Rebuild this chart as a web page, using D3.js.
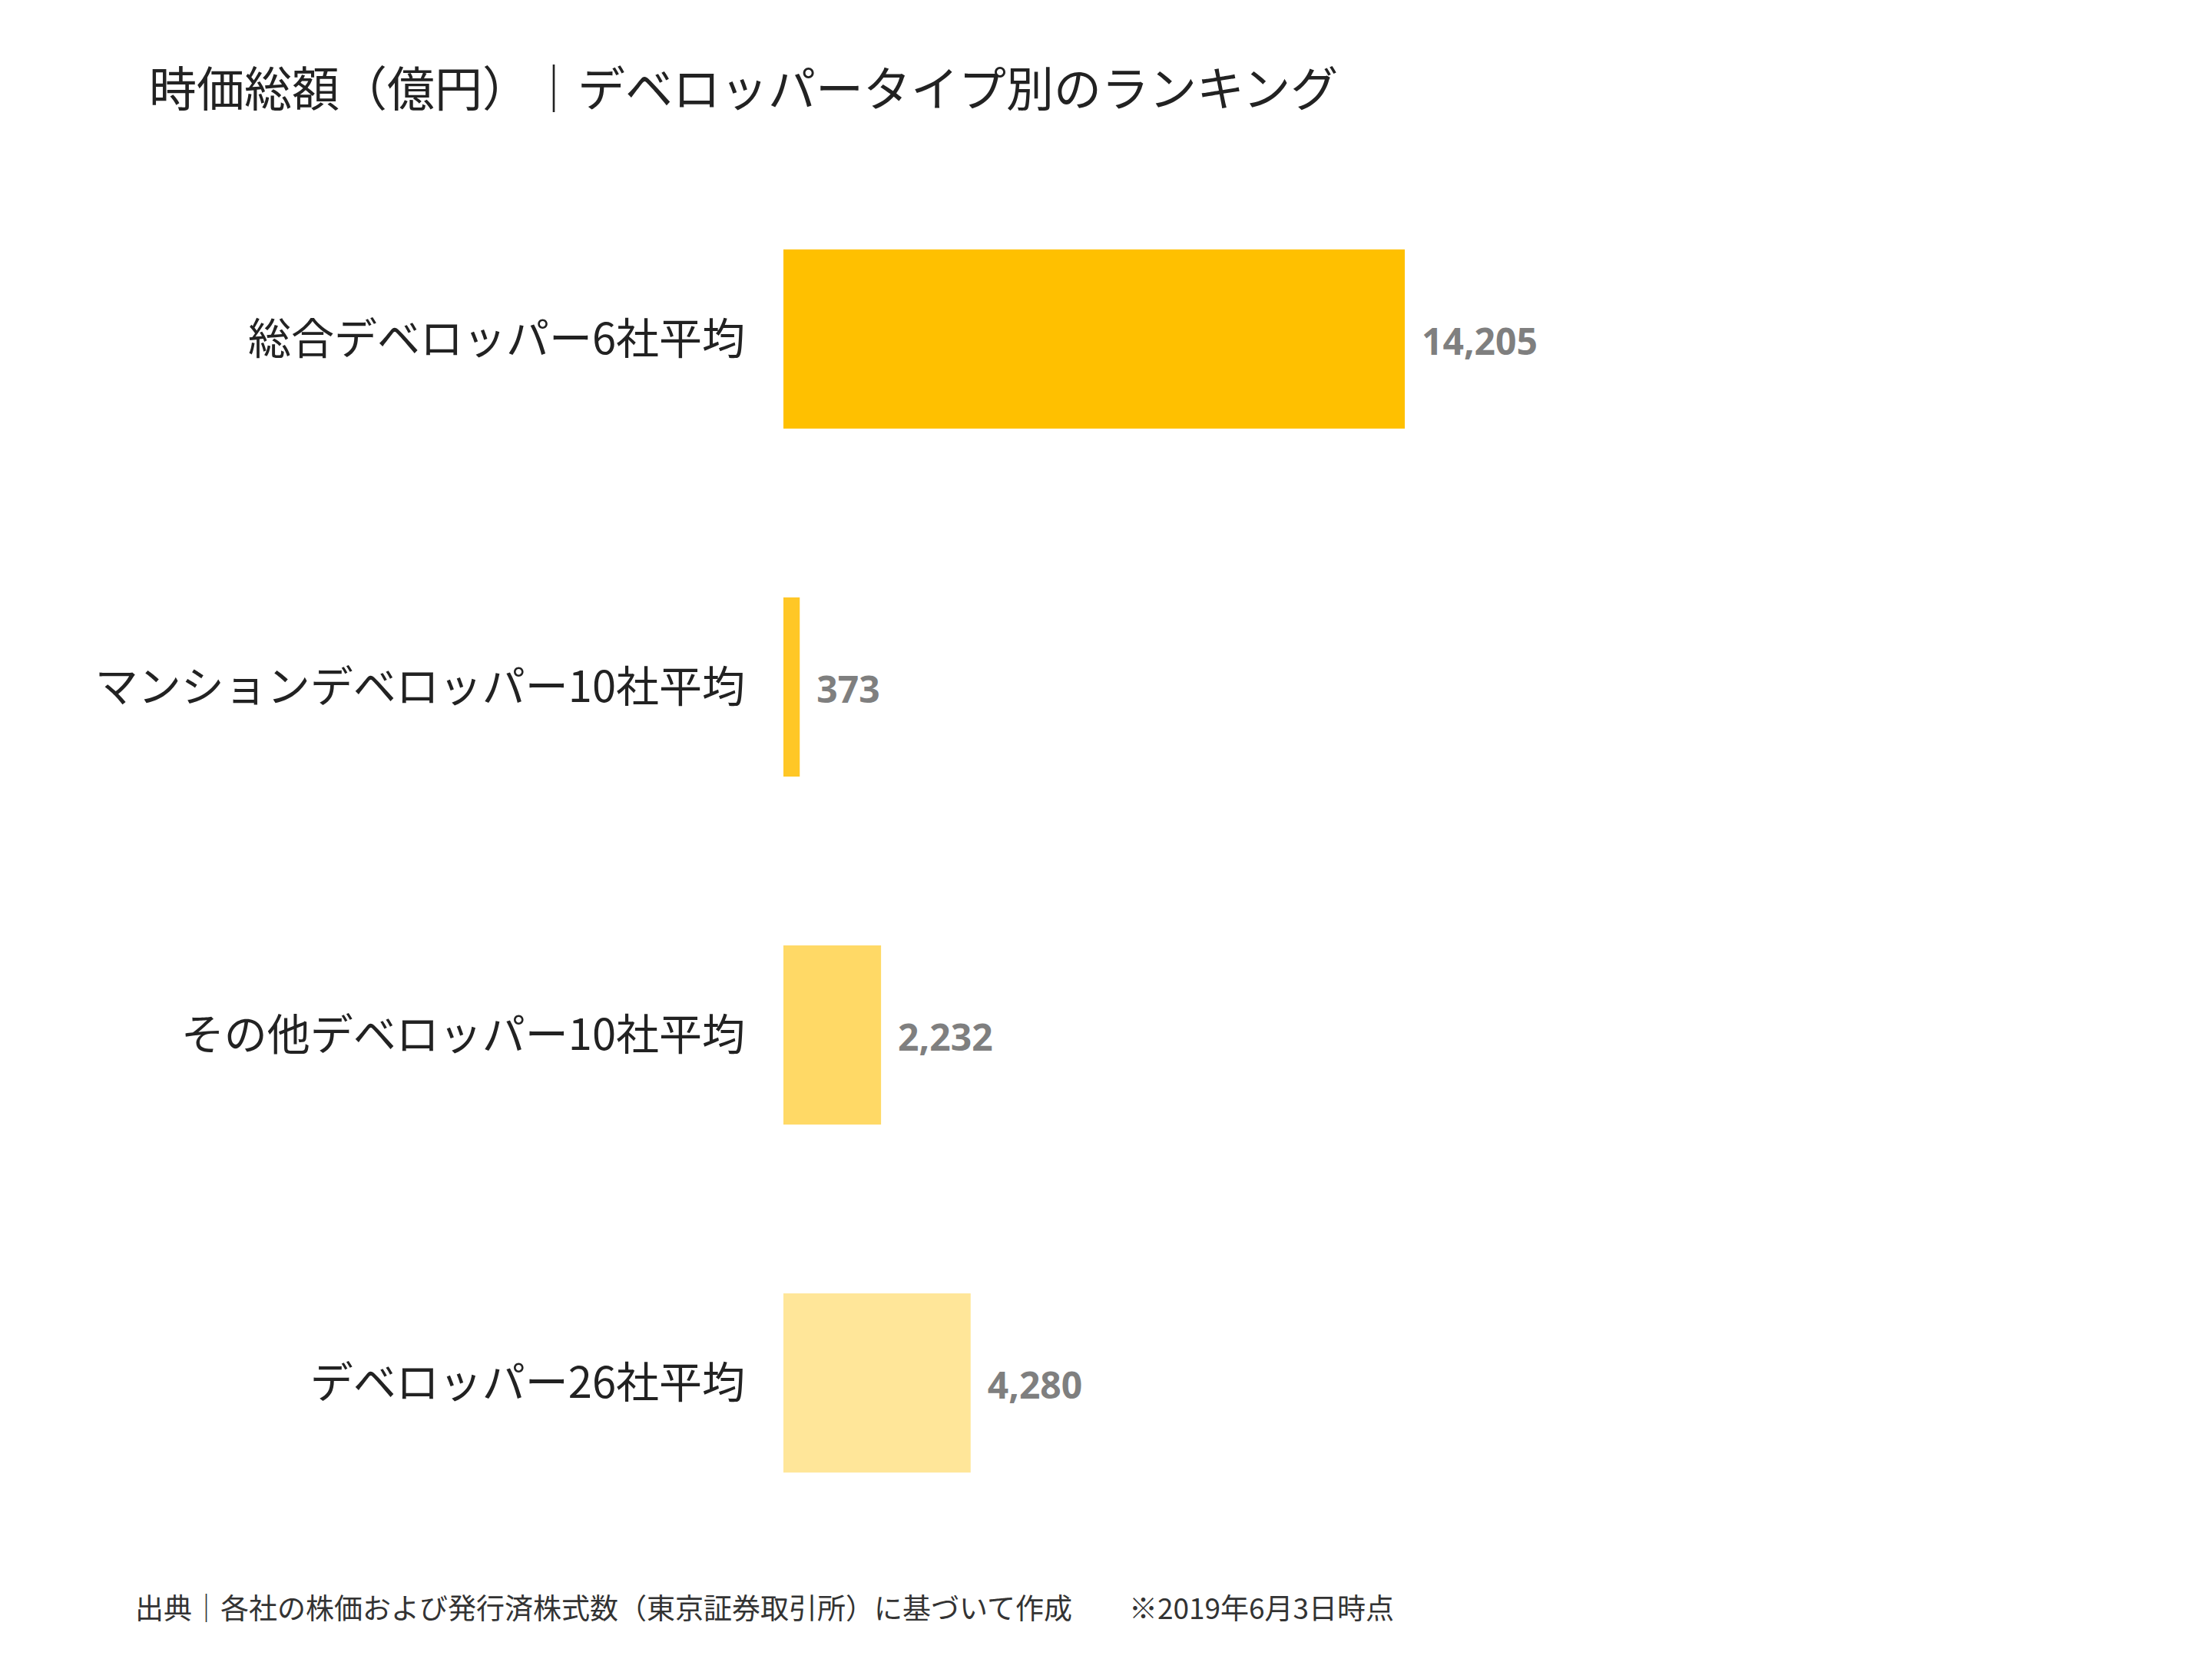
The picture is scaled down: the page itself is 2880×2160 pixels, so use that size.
<!DOCTYPE html>
<html><head><meta charset="utf-8">
<script src="https://cdn.jsdelivr.net/npm/d3@7"></script>
<style>body{margin:0;background:#fff}</style>
</head><body>
<script>
const categories = ["総合デベロッパー6社平均", "マンションデベロッパー10社平均", "その他デベロッパー10社平均", "デベロッパー26社平均"];
const values = [14205, 373, 2232, 4280];
const colors = ["#FFC000", "#FFC726", "#FFD966", "#FFE699"];

const W = 2880, H = 2160;
const svg = d3.select("body").append("svg").attr("width", W).attr("height", H);
const font = "'Noto Sans CJK JP', 'Noto Sans', sans-serif";

const x = d3.scaleLinear().domain([0, 14205]).range([1020, 1829]);
const y = d3.scaleBand().domain(categories).range([216, 2026]).paddingInner(0.485).paddingOuter(0.24);

svg.append("text").attr("x", 194).attr("y", 139)
    .attr("font-family", font).attr("font-size", 62).attr("fill", "#222")
    .text("時価総額（億円）｜デベロッパータイプ別のランキング");

const g = svg.append("g");
g.selectAll("rect").data(values).join("rect")
    .attr("x", x(0)).attr("y", (d, i) => y(categories[i]))
    .attr("width", d => x(d) - x(0)).attr("height", y.bandwidth())
    .attr("fill", (d, i) => colors[i]);

g.selectAll("text.cat").data(categories).join("text")
    .attr("class", "cat").attr("x", 970).attr("y", d => y(d) + y.bandwidth() / 2)
    .attr("dy", "0.35em").attr("text-anchor", "end")
    .attr("font-family", font).attr("font-size", 56).attr("fill", "#222")
    .text(d => d);

g.selectAll("text.val").data(values).join("text")
    .attr("class", "val").attr("x", d => x(d) + 22).attr("y", (d, i) => y(categories[i]) + y.bandwidth() / 2 + 4)
    .attr("dy", "0.35em")
    .attr("font-family", "'Open Sans', 'Noto Sans', sans-serif").attr("font-weight", "bold")
    .attr("font-size", 48).attr("fill", "#7F7F7F")
    .text(d => d3.format(",")(d));

svg.append("text").attr("x", 176).attr("y", 2108)
    .attr("font-family", font).attr("font-size", 37).attr("fill", "#333")
    .attr("xml:space", "preserve")
    .text("出典｜各社の株価および発行済株式数（東京証券取引所）に基づいて作成　　※2019年6月3日時点");
</script>
</body></html>
